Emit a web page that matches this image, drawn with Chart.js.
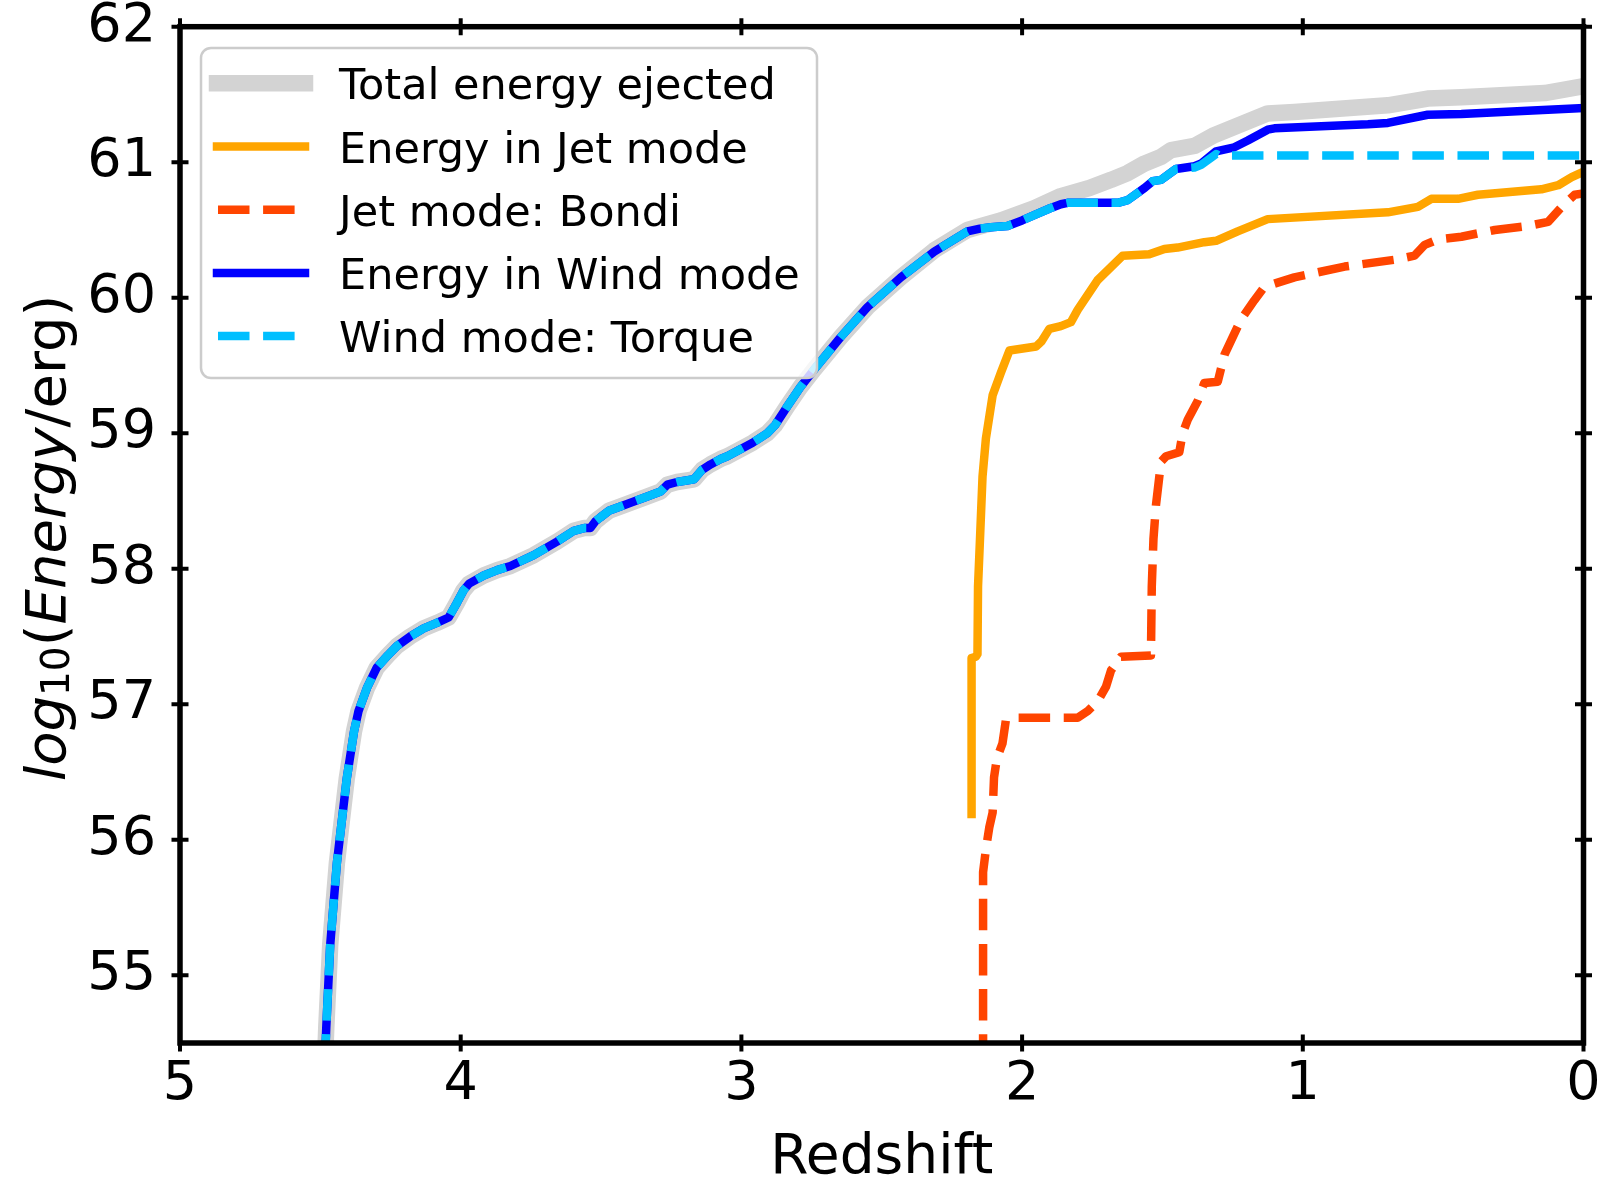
<!DOCTYPE html>
<html>
<head>
<meta charset="utf-8">
<script src="https://cdn.jsdelivr.net/npm/chart.js@4.4.1/dist/chart.umd.min.js"></script>
<style>
  html, body { margin: 0; padding: 0; background: #fff; }
  #wrap { width: 1614px; height: 1179px; }
</style>
</head>
<body>
<div id="wrap"><canvas id="energy-chart" width="1614" height="1179"></canvas></div>
<script>
// data (redshift z, log10 energy)
const totalZ = [4.49, 4.479, 4.465, 4.441, 4.406, 4.38, 4.364, 4.334, 4.299, 4.26, 4.227, 4.18, 4.132, 4.085, 4.043, 4.013, 3.99, 3.97, 3.918, 3.87, 3.823, 3.74, 3.657, 3.597, 3.56, 3.538, 3.52, 3.502, 3.47, 3.431, 3.34, 3.288, 3.264, 3.229, 3.169, 3.14, 3.11, 3.074, 3.05, 2.96, 2.908, 2.88, 2.836, 2.79, 2.741, 2.646, 2.551, 2.432, 2.313, 2.195, 2.076, 1.957, 1.862, 1.76, 1.683, 1.624, 1.564, 1.505, 1.469, 1.386, 1.315, 1.232, 1.125, 1.03, 0.697, 0.555, 0.435, 0.138, 0.0];
const totalE = [54.0, 54.61, 55.22, 55.83, 56.45, 56.8, 56.95, 57.12, 57.27, 57.36, 57.43, 57.5, 57.56, 57.6, 57.64, 57.75, 57.84, 57.89, 57.95, 57.99, 58.02, 58.1, 58.2, 58.28, 58.3, 58.3, 58.35, 58.38, 58.43, 58.46, 58.53, 58.57, 58.62, 58.64, 58.66, 58.73, 58.77, 58.81, 58.83, 58.93, 59.0, 59.06, 59.2, 59.34, 59.47, 59.71, 59.93, 60.15, 60.35, 60.5, 60.57, 60.66, 60.75, 60.81, 60.87, 60.92, 60.99, 61.04, 61.09, 61.12, 61.2, 61.27, 61.36, 61.37, 61.42, 61.47, 61.48, 61.51, 61.56];

const jetZ = [2.18, 2.18, 2.165, 2.159, 2.157, 2.15, 2.141, 2.129, 2.105, 2.075, 2.045, 1.95, 1.93, 1.903, 1.862, 1.826, 1.802, 1.731, 1.642, 1.547, 1.493, 1.446, 1.351, 1.309, 1.232, 1.125, 0.697, 0.59, 0.542, 0.447, 0.376, 0.15, 0.09, 0.042, 0.0];
const jetE = [56.19, 57.34, 57.35, 57.37, 57.87, 58.22, 58.68, 58.96, 59.28, 59.45, 59.61, 59.64, 59.68, 59.77, 59.79, 59.82, 59.91, 60.13, 60.31, 60.32, 60.36, 60.37, 60.41, 60.42, 60.49, 60.58, 60.63, 60.67, 60.73, 60.73, 60.76, 60.8, 60.83, 60.89, 60.93];

const bondiZ = [2.139, 2.139, 2.129, 2.117, 2.105, 2.1, 2.09, 2.07, 2.058, 2.034, 1.802, 1.766, 1.731, 1.701, 1.683, 1.648, 1.541, 1.538, 1.532, 1.523, 1.505, 1.487, 1.44, 1.428, 1.41, 1.374, 1.351, 1.303, 1.279, 1.22, 1.173, 1.137, 1.03, 0.851, 0.673, 0.602, 0.566, 0.518, 0.435, 0.316, 0.197, 0.126, 0.078, 0.031, 0.0];
const bondiE = [54.0, 55.76, 55.93, 56.09, 56.2, 56.46, 56.6, 56.71, 56.88, 56.9, 56.9, 56.95, 57.02, 57.13, 57.25, 57.35, 57.36, 57.87, 58.22, 58.47, 58.79, 58.83, 58.86, 59.0, 59.1, 59.24, 59.37, 59.38, 59.58, 59.84, 59.98, 60.08, 60.15, 60.23, 60.28, 60.31, 60.39, 60.43, 60.45, 60.5, 60.53, 60.56, 60.67, 60.76, 60.77];

const windZ = [4.49, 4.479, 4.465, 4.441, 4.406, 4.38, 4.364, 4.334, 4.299, 4.26, 4.227, 4.18, 4.132, 4.085, 4.043, 4.013, 3.99, 3.97, 3.918, 3.87, 3.823, 3.74, 3.657, 3.597, 3.56, 3.538, 3.52, 3.502, 3.47, 3.431, 3.34, 3.288, 3.264, 3.229, 3.169, 3.14, 3.11, 3.074, 3.05, 2.96, 2.908, 2.88, 2.836, 2.79, 2.741, 2.646, 2.551, 2.432, 2.313, 2.195, 2.15, 2.111, 2.052, 2.0, 1.957, 1.9, 1.862, 1.838, 1.659, 1.624, 1.564, 1.535, 1.505, 1.452, 1.386, 1.362, 1.309, 1.244, 1.196, 1.125, 1.101, 0.768, 0.697, 0.555, 0.435, 0.2, 0.0];
const windE = [54.0, 54.61, 55.22, 55.83, 56.45, 56.8, 56.95, 57.12, 57.27, 57.36, 57.43, 57.5, 57.56, 57.6, 57.64, 57.75, 57.84, 57.89, 57.95, 57.99, 58.02, 58.1, 58.2, 58.28, 58.3, 58.3, 58.35, 58.38, 58.43, 58.46, 58.53, 58.57, 58.62, 58.64, 58.66, 58.73, 58.77, 58.81, 58.83, 58.93, 59.0, 59.06, 59.2, 59.34, 59.47, 59.71, 59.93, 60.15, 60.34, 60.49, 60.51, 60.52, 60.53, 60.57, 60.61, 60.66, 60.69, 60.7, 60.7, 60.72, 60.81, 60.86, 60.87, 60.95, 60.97, 60.99, 61.08, 61.11, 61.16, 61.24, 61.25, 61.28, 61.29, 61.35, 61.355, 61.38, 61.4];

const torqueZ = [4.49, 4.479, 4.465, 4.441, 4.406, 4.38, 4.364, 4.334, 4.299, 4.26, 4.227, 4.18, 4.132, 4.085, 4.043, 4.013, 3.99, 3.97, 3.918, 3.87, 3.823, 3.74, 3.657, 3.597, 3.56, 3.538, 3.52, 3.502, 3.47, 3.431, 3.34, 3.288, 3.264, 3.229, 3.169, 3.14, 3.11, 3.074, 3.05, 2.96, 2.908, 2.88, 2.836, 2.79, 2.741, 2.646, 2.551, 2.432, 2.313, 2.195, 2.15, 2.111, 2.052, 2.0, 1.957, 1.9, 1.862, 1.838, 1.659, 1.624, 1.564, 1.535, 1.505, 1.452, 1.386, 1.362, 1.309, 1.3, 0.0];
const torqueE = [54.0, 54.61, 55.22, 55.83, 56.45, 56.8, 56.95, 57.12, 57.27, 57.36, 57.43, 57.5, 57.56, 57.6, 57.64, 57.75, 57.84, 57.89, 57.95, 57.99, 58.02, 58.1, 58.2, 58.28, 58.3, 58.3, 58.35, 58.38, 58.43, 58.46, 58.53, 58.57, 58.62, 58.64, 58.66, 58.73, 58.77, 58.81, 58.83, 58.93, 59.0, 59.06, 59.2, 59.34, 59.47, 59.71, 59.93, 60.15, 60.34, 60.49, 60.51, 60.52, 60.53, 60.57, 60.61, 60.66, 60.69, 60.7, 60.7, 60.72, 60.81, 60.86, 60.87, 60.95, 60.96, 60.98, 61.06, 61.05, 61.05];

const xTicks = [0, 1, 2, 3, 4, 5];
const yTicks = [55, 56, 57, 58, 59, 60, 61, 62];
const legendLabels = ['Total energy ejected', 'Energy in Jet mode', 'Jet mode: Bondi', 'Energy in Wind mode', 'Wind mode: Torque'];

const FONT = '"DejaVu Sans", "Liberation Sans", sans-serif';

function pts(zs, es) {
  return zs.map((z, i) => ({ x: z, y: es[i] }));
}

// matplotlib-like styles, same order as the legend
const styles = [
  { color: '#d3d3d3', width: 16.5, dash: [] },
  { color: '#ffa500', width: 8.5, dash: [] },
  { color: '#ff4500', width: 8.5, dash: [31.5, 13.6] },
  { color: '#0000ff', width: 8.5, dash: [] },
  { color: '#00bfff', width: 8.5, dash: [31.5, 13.6] }
];
const series = [pts(totalZ, totalE), pts(jetZ, jetE), pts(bondiZ, bondiE), pts(windZ, windE), pts(torqueZ, torqueE)];

const datasets = series.map((d, i) => ({
  label: legendLabels[i],
  data: d,
  borderColor: styles[i].color,
  borderWidth: styles[i].width,
  borderDash: styles[i].dash,
  borderCapStyle: styles[i].dash.length ? 'butt' : 'square',
  borderJoinStyle: 'round',
  pointRadius: 0,
  tension: 0,
  fill: false,
  clip: 0,
  order: series.length - i  // first series drawn at the bottom
}));

// spines, in/out ticks on all four sides, axis titles
const framePlugin = {
  id: 'frame',
  afterDatasetsDraw(chart) {
    const { ctx, chartArea: a, scales } = chart;
    ctx.save();
    ctx.strokeStyle = '#000';
    ctx.lineWidth = 5.5;
    ctx.strokeRect(a.left, a.top, a.right - a.left, a.bottom - a.top);

    ctx.lineWidth = 4;
    const half = 8.5;
    ctx.beginPath();
    xTicks.forEach(v => {
      const px = scales.x.getPixelForValue(v);
      ctx.moveTo(px, a.bottom - half); ctx.lineTo(px, a.bottom + half);
      ctx.moveTo(px, a.top - half); ctx.lineTo(px, a.top + half);
    });
    yTicks.forEach(v => {
      const py = scales.y.getPixelForValue(v);
      ctx.moveTo(a.left - half, py); ctx.lineTo(a.left + half, py);
      ctx.moveTo(a.right - half, py); ctx.lineTo(a.right + half, py);
    });
    ctx.stroke();

    // x title
    ctx.fillStyle = '#000';
    ctx.font = '55px ' + FONT;
    ctx.textAlign = 'center';
    ctx.textBaseline = 'alphabetic';
    ctx.fillText('Redshift', (a.left + a.right) / 2, 1173);

    // y title: log_10(Energy/erg), rotated
    const parts = [
      { t: 'log', f: 'italic 56px ' + FONT, dy: 0 },
      { t: '10', f: '39px ' + FONT, dy: 4 },
      { t: '(', f: '56px ' + FONT, dy: 0 },
      { t: 'Energy', f: 'italic 56px ' + FONT, dy: 0 },
      { t: '/erg)', f: '56px ' + FONT, dy: 0 }
    ];
    let total = 0;
    parts.forEach(p => { ctx.font = p.f; p.w = ctx.measureText(p.t).width; total += p.w; });
    ctx.translate(65, 538);
    ctx.rotate(-Math.PI / 2);
    ctx.textAlign = 'left';
    let x = -total / 2;
    parts.forEach(p => { ctx.font = p.f; ctx.fillText(p.t, x, p.dy); x += p.w; });
    ctx.restore();
  },
  afterDraw(chart) {
    // legend box on top of the lines
    const { ctx } = chart;
    const box = { x: 201, y: 48, w: 616, h: 330, r: 10 };
    ctx.save();
    ctx.beginPath();
    ctx.roundRect(box.x, box.y, box.w, box.h, box.r);
    ctx.fillStyle = 'rgba(255,255,255,0.8)';
    ctx.fill();
    ctx.lineWidth = 2.5;
    ctx.strokeStyle = '#cccccc';
    ctx.stroke();

    ctx.font = '43px ' + FONT;
    ctx.textAlign = 'left';
    ctx.textBaseline = 'alphabetic';
    legendLabels.forEach((label, i) => {
      const cy = 83.3 + i * 63.2;
      const s = styles[i];
      ctx.beginPath();
      ctx.strokeStyle = s.color;
      ctx.lineWidth = s.width;
      ctx.setLineDash(s.dash);
      ctx.lineCap = s.dash.length ? 'butt' : 'square';
      const x0 = s.dash.length ? 218 : 217;
      ctx.moveTo(x0, cy);
      ctx.lineTo(305, cy);
      ctx.stroke();
      ctx.setLineDash([]);
      ctx.fillStyle = '#000';
      ctx.fillText(label, 339, cy + 16);
    });
    ctx.restore();
  }
};

new Chart(document.getElementById('energy-chart'), {
  type: 'line',
  data: { datasets },
  options: {
    responsive: false,
    animation: false,
    devicePixelRatio: 1,
    layout: { padding: { left: 0, right: 30.5, top: 26.7, bottom: 0 } },
    plugins: { legend: { display: false }, tooltip: { enabled: false } },
    scales: {
      x: {
        type: 'linear',
        reverse: true,
        min: 0,
        max: 5,
        afterFit: s => { s.height = 136; s.paddingLeft = 0; s.paddingRight = 0; },
        afterBuildTicks: s => { s.ticks = xTicks.map(v => ({ value: v })); },
        grid: { display: false, drawTicks: false },
        border: { display: false },
        ticks: {
          color: '#000',
          padding: 10,
          maxRotation: 0,
          font: { family: FONT, size: 54 },
          callback: v => String(v)
        }
      },
      y: {
        type: 'linear',
        min: 54.5,
        max: 62,
        afterFit: s => { s.width = 180; s.paddingTop = 0; s.paddingBottom = 0; },
        afterBuildTicks: s => { s.ticks = yTicks.map(v => ({ value: v })); },
        grid: { display: false, drawTicks: false },
        border: { display: false },
        ticks: {
          color: '#000',
          padding: 24,
          font: { family: FONT, size: 54 },
          callback: v => String(v)
        }
      }
    }
  },
  plugins: [framePlugin]
});
</script>
</body>
</html>
